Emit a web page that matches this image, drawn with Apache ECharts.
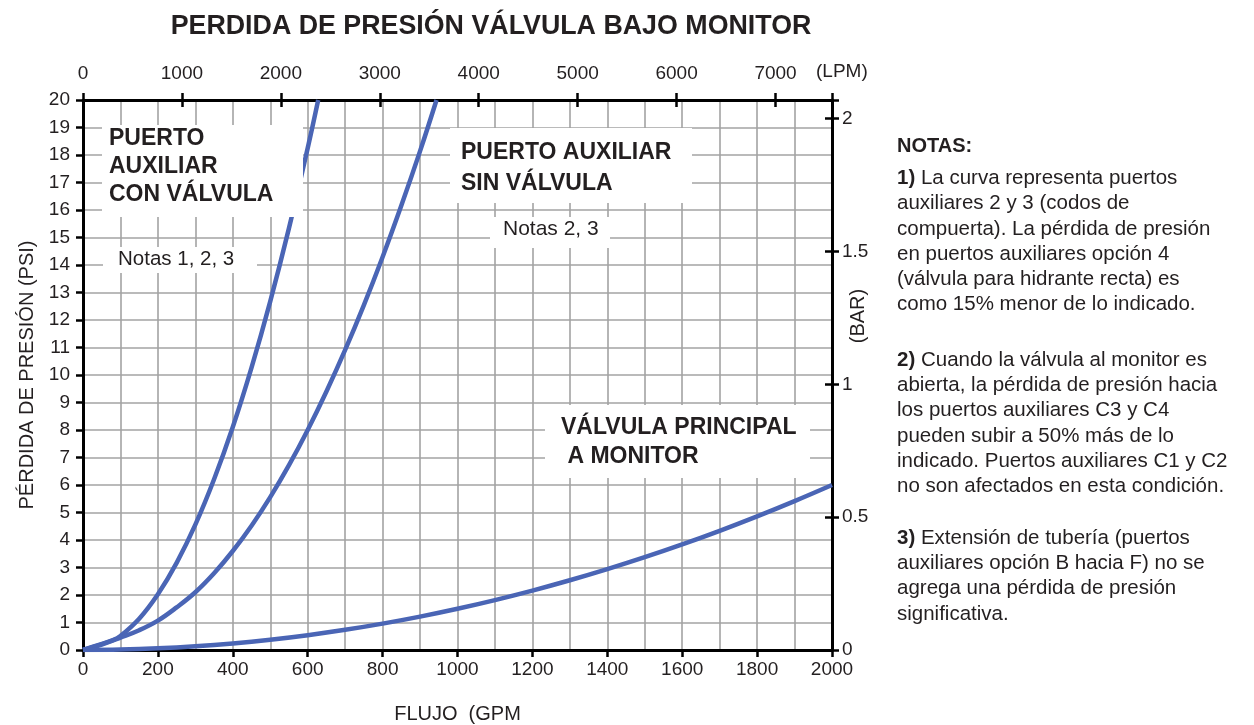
<!DOCTYPE html>
<html>
<head>
<meta charset="utf-8">
<title>Perdida de presión válvula bajo monitor</title>
<script src="https://cdn.jsdelivr.net/npm/echarts@6/dist/echarts.min.js"></script>
<style>
  html, body { margin: 0; padding: 0; background: #ffffff; }
  #chart { width: 1254px; height: 725px; }
</style>
</head>
<body>
<div id="chart"></div>
<script>
// ---- data -------------------------------------------------------------
// Flow in GPM and pressure loss in PSI
const conValvulaGpm = [0, 40, 80, 100, 150, 200, 250, 300, 350, 400, 450, 500, 550, 600, 628];
const conValvulaPsi = [0, 0.18, 0.36, 0.51, 1.14, 2.03, 3.17, 4.56, 6.21, 8.11, 10.27, 12.68, 15.34, 18.25, 20];

const sinValvulaGpm = [0, 50, 100, 150, 200, 250, 300, 350, 400, 450, 500, 550, 600, 650, 700, 750, 800, 850, 900, 944];
const sinValvulaPsi = [0, 0.2, 0.45, 0.72, 1.07, 1.55, 2.1, 2.79, 3.6, 4.52, 5.56, 6.72, 8.0, 9.4, 10.91, 12.54, 14.29, 16.16, 18.14, 20];

const principalGpm = [0, 100, 200, 300, 400, 500, 600, 700, 800, 900, 1000, 1100, 1200, 1300, 1400, 1500, 1600, 1700, 1800, 1900, 2000];
const principalPsi = [0, 0.015, 0.06, 0.135, 0.24, 0.375, 0.54, 0.735, 0.96, 1.215, 1.5, 1.815, 2.16, 2.535, 2.94, 3.375, 3.84, 4.335, 4.86, 5.415, 6.0];

// Tick labels
const gpmTicks = [0, 200, 400, 600, 800, 1000, 1200, 1400, 1600, 1800, 2000];
const lpmTicks = [0, 1000, 2000, 3000, 4000, 5000, 6000, 7000];
const psiTicks = [0, 1, 2, 3, 4, 5, 6, 7, 8, 9, 10, 11, 12, 13, 14, 15, 16, 17, 18, 19, 20];
const barTicks = [0, 0.5, 1, 1.5, 2];

// Axis ranges: 2000 GPM expressed in LPM, 20 PSI expressed on the bar scale
const gpmMax = 2000;
const lpmMax = 7570.8;
const psiMax = 20;
const barMax = 2.07;

// ---- styling -----------------------------------------------------------
const FONT = '"Liberation Sans", Arial, Helvetica, sans-serif';
const INK = '#231f20';
const CURVE = '#4a65b5';
const GRID = '#a3a3a3';

const pairs = (xs, ys) => xs.map((x, i) => [x, ys[i]]);
const near = (list, v) => list.some(t => Math.abs(t - v) < 1e-6);

const frame = () => ({ show: true, onZero: false, lineStyle: { color: '#000', width: 3 } });
const ticks = inside => ({ show: true, inside: inside, length: 7, lineStyle: { color: '#000', width: 2.5 } });
const labels = (margin, list) => ({
  show: true, margin: margin, color: INK, fontFamily: FONT, fontSize: 19,
  formatter: v => near(list, v) ? String(v) : ''
});
const gridLine = () => ({ show: true, lineStyle: { color: GRID, width: 1.6 } });

const notes = [
  { y: 178.3, lines: [
    '{b|1)} La curva representa puertos',
    'auxiliares 2 y 3 (codos de',
    'compuerta). La pérdida de presión',
    'en puertos auxiliares opción 4',
    '(válvula para hidrante recta) es',
    'como 15% menor de lo indicado.'
  ]},
  { y: 360, lines: [
    '{b|2)} Cuando la válvula al monitor es',
    'abierta, la pérdida de presión hacia',
    'los puertos auxiliares C3 y C4',
    'pueden subir a 50% más de lo',
    'indicado. Puertos auxiliares C1 y C2',
    'no son afectados en esta condición.'
  ]},
  { y: 538, lines: [
    '{b|3)} Extensión de tubería (puertos',
    'auxiliares opción B hacia F) no se',
    'agrega una pérdida de presión',
    'significativa.'
  ]}
];

function txt(x, y, text, opts) {
  opts = opts || {};
  return {
    type: 'text', x: x, y: y, z: 110,
    rotation: opts.rotation || 0,
    style: {
      text: text,
      fill: INK,
      fontFamily: FONT,
      fontSize: opts.size || 21,
      fontWeight: opts.bold ? 'bold' : 'normal',
      align: opts.align || 'left', textAlign: opts.align || 'left',
      verticalAlign: 'middle', textVerticalAlign: 'middle',
      rich: { b: { fontFamily: FONT, fontSize: opts.size || 21, fontWeight: 'bold', fill: INK } }
    }
  };
}
function box(x, y, w, h) {
  return { type: 'rect', z: 105, shape: { x: x, y: y, width: w, height: h }, style: { fill: '#ffffff' } };
}

const graphics = [
  txt(491, 27, 'PERDIDA DE PRESIÓN VÁLVULA BAJO MONITOR', { size: 26.8, bold: true, align: 'center' }),
  txt(816, 72, '(LPM)', { size: 19 }),
  txt(858, 316, '(BAR)', { size: 20, align: 'center', rotation: Math.PI / 2 }),

  box(102, 125, 201, 92),
  txt(109, 139, 'PUERTO', { size: 23, bold: true }),
  txt(109, 167, 'AUXILIAR', { size: 23, bold: true }),
  txt(109, 195, 'CON VÁLVULA', { size: 23, bold: true }),
  box(103, 247, 154, 26),
  txt(118, 259, 'Notas 1, 2, 3', { size: 20.5 }),

  box(450, 128, 242, 75),
  txt(461, 153, 'PUERTO AUXILIAR', { size: 23, bold: true }),
  txt(461, 183.5, 'SIN VÁLVULA', { size: 23, bold: true }),
  box(490, 217, 120, 31),
  txt(503, 229, 'Notas 2, 3', { size: 21 }),

  box(545, 405, 265, 73),
  txt(561, 428, 'VÁLVULA PRINCIPAL', { size: 23, bold: true }),
  txt(561, 456.5, ' A MONITOR', { size: 23, bold: true }),

  txt(897, 146.7, 'NOTAS:', { size: 20, bold: true })
];
notes.forEach(p => {
  p.lines.forEach((line, i) => graphics.push(txt(897, p.y + i * 25.3, line, { size: 20.5 })));
});

// ---- chart -------------------------------------------------------------
const chart = echarts.init(document.getElementById('chart'), null, { renderer: 'canvas' });

const plotRect = { left: 83, top: 100, width: 749, height: 550, containLabel: false, outerBoundsMode: 'none' };

chart.setOption({
  animation: false,
  backgroundColor: '#ffffff',
  // second grid shares the plot rectangle and carries the inner half of the crossing ticks
  grid: [Object.assign({}, plotRect), Object.assign({}, plotRect)],
  xAxis: [
    { // bottom: flow in GPM, grid every 100 GPM
      gridIndex: 0, type: 'value', position: 'bottom', min: 0, max: gpmMax, interval: 200,
      axisLine: frame(), axisTick: ticks(false), axisLabel: labels(10, gpmTicks),
      splitLine: gridLine(),
      minorTick: { show: false, splitNumber: 2 },
      minorSplitLine: gridLine(),
      name: 'FLUJO  (GPM', nameLocation: 'middle', nameGap: 54,
      nameTextStyle: { color: INK, fontFamily: FONT, fontSize: 20 }
    },
    { // top: flow in LPM
      gridIndex: 0, type: 'value', position: 'top', min: 0, max: lpmMax, interval: 1000,
      axisLine: frame(), axisTick: ticks(false), axisLabel: labels(17, lpmTicks),
      splitLine: { show: false }
    },
    { // inner half of the LPM ticks
      gridIndex: 1, type: 'value', position: 'top', min: 0, max: lpmMax, interval: 1000,
      axisLine: { show: false, onZero: false }, axisTick: ticks(true), axisLabel: { show: false },
      splitLine: { show: false }
    }
  ],
  yAxis: [
    { // left: pressure loss in PSI
      gridIndex: 0, type: 'value', position: 'left', min: 0, max: psiMax, interval: 1,
      axisLine: frame(), axisTick: ticks(false), axisLabel: labels(13, psiTicks),
      splitLine: gridLine(),
      name: 'PÉRDIDA DE PRESIÓN (PSI)', nameLocation: 'middle', nameGap: 42, nameRotate: 90,
      nameTextStyle: { color: INK, fontFamily: FONT, fontSize: 20 }
    },
    { // right: pressure loss in bar
      gridIndex: 0, type: 'value', position: 'right', min: 0, max: barMax, interval: 0.5,
      axisLine: frame(), axisTick: ticks(false), axisLabel: labels(10, barTicks),
      splitLine: { show: false }
    },
    { // inner half of the bar ticks
      gridIndex: 1, type: 'value', position: 'right', min: 0, max: barMax, interval: 0.5,
      axisLine: { show: false, onZero: false }, axisTick: ticks(true), axisLabel: { show: false },
      splitLine: { show: false }
    }
  ],
  series: [
    { name: 'PUERTO AUXILIAR CON VÁLVULA', data: pairs(conValvulaGpm, conValvulaPsi) },
    { name: 'PUERTO AUXILIAR SIN VÁLVULA', data: pairs(sinValvulaGpm, sinValvulaPsi) },
    { name: 'VÁLVULA PRINCIPAL A MONITOR', data: pairs(principalGpm, principalPsi) }
  ].map(s => Object.assign(s, {
    type: 'line', xAxisIndex: 0, yAxisIndex: 0,
    smooth: 0.4, showSymbol: false, symbol: 'none', clip: true,
    lineStyle: { color: CURVE, width: 4.5 }, z: 3
  })),
  graphic: graphics
});
</script>
</body>
</html>
